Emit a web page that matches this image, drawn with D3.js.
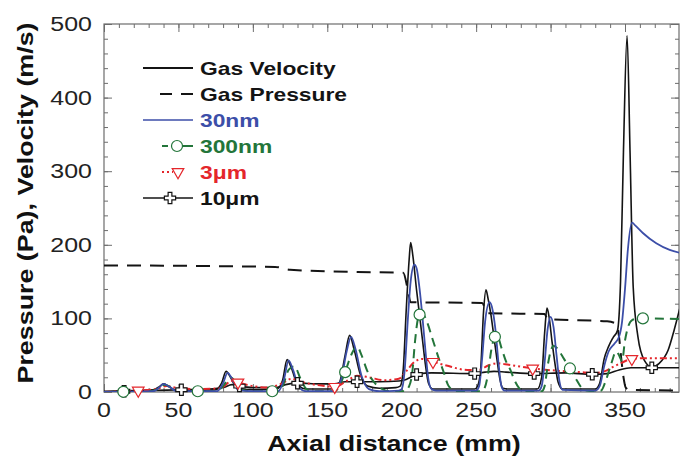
<!DOCTYPE html>
<html>
<head>
<meta charset="utf-8">
<script src="https://cdn.jsdelivr.net/npm/d3@7"></script>
<style>
  body { margin: 0; background: #fff; }
  svg { display: block; font-family: "Liberation Sans", Arial, sans-serif; }
</style>
</head>
<body>
<svg id="chart" width="680" height="457"></svg>
<script>
'use strict';

/* Data: [axial distance (mm), value] */

var gasVelocity = [[0,1],[20,2],[33,3],[37,7],[40,11],[43,8],[48,3],[62,2],[75,3],[79,12],[82,28],[85,20],[89,6],[100,3],[116,4],[120,16],[123,44],[126,32],[130,10],[136,4],[152,4],[158,12],[162,50],[165,77],[168,58],[172,25],[177,8],[185,5],[196,6],[199,8],[201,30],[203,110],[205,180],[206,203],[207.5,185],[210,138],[212,104],[214,70],[216,36],[218,12],[221,4],[249,4],[251,8],[253,30],[255,110],[256.6,139],[258,127],[260,104],[262,74],[264,44],[266,17],[268,5],[271,4],[291,4],[294,20],[296,80],[297.6,114],[299,102],[301,68],[303,38],[305,14],[308,4],[330,4],[333,12],[336,45],[339,62],[342,74],[345,84],[347,150],[349,330],[351.4,484],[353.4,325],[355.5,143],[358.7,75],[363,43],[368,34],[373,39],[379,57],[383,84],[387,115]];

var gasPressure = [[0,172],[115,170],[125,166],[170,163],[201,162],[204,140],[206,122],[254,121],[256,114],[258,107],[296,106],[298,99],[338,96],[344,93],[346,75],[347.5,45],[349,20],[350.5,6],[353,3],[387,2]];

var p30nm = [[0,0],[33,1],[37,6],[40,11],[44,7],[49,1],[76,1],[80,12],[83,26],[86,18],[90,3],[100,1],[117,1],[121,18],[124,43],[127,30],[131,6],[136,1],[153,1],[159,15],[163,55],[166,75],[169,58],[173,22],[178,4],[185,1],[198,2],[200,4],[202,30],[204,95],[206,150],[208.5,173],[210,168],[212,140],[214,100],[216,55],[218,16],[220,4],[223,2],[250,2],[252,8],[254,45],[256,95],[259,122],[261,112],[263,84],[265,40],[267,8],[269,2],[292,2],[294,8],[296,40],[298,85],[300,102],[302,88],[304,50],[306,14],[308,3],[330,2],[333,8],[336,35],[339,55],[343,66],[346,75],[348,95],[350,140],[352,195],[354.7,230],[357,226],[362,216],[371,202],[380,193],[387,189]];

var p300nm = [[0,0],[30,1],[36,4],[41,10],[45,6],[50,1],[75,1],[80,8],[85,20],[89,12],[93,3],[100,1],[116,1],[120,8],[124,30],[128,35],[132,18],[136,4],[140,1],[155,1],[159,12],[162,27],[166,50],[170,62],[173,50],[177,28],[182,12],[187,4],[192,1],[202,1],[205,8],[207,25],[209,70],[211,100],[213.5,108],[217,95],[221,70],[225,45],[228,28],[231,10],[234,3],[238,1],[253,1],[255,3],[258,25],[260,55],[262.6,75],[264,77],[267,60],[270,42],[273,30],[276,15],[279,5],[282,1],[294,1],[296,8],[298,35],[300,55],[302,63],[305,58],[309,45],[313,32],[317,18],[320,8],[324,2],[330,1],[334,2],[337,15],[341,40],[344,55],[346,50],[348,42],[350,70],[352,88],[355,98],[359,100],[362,100],[387,99]];

var p3um = [[0,0],[23,2],[35,4],[42,8],[48,6],[60,4],[78,5],[86,15],[90,13],[100,8],[110,6],[120,12],[126,18],[132,14],[145,9],[155,7],[163,15],[170,22],[178,20],[188,16],[198,18],[203,28],[208,40],[214,45],[221,41],[230,36],[244,30],[252,30],[258,36],[264,39],[272,37],[288,32],[304,29],[320,27],[329,26],[336,28],[342,34],[348,40],[354.6,45],[365,46],[387,46]];

var p10um = [[0,0],[13.5,1],[30,2],[52,3],[70,4],[80,6],[86,10],[91,8],[100,6],[115,6],[122,10],[130,12],[145,11],[155,11],[162,14],[170,14],[185,14],[198,15],[203,17],[207,21],[212,25],[220,26],[249,25],[256,27],[262,28],[270,27],[289,25],[310,26],[328,24],[338,25],[346,30],[354,33],[368,33],[387,33]];

// marker positions (mm) along each particle curve
var marks300nm = [13, 63, 113, 162, 212, 262.6, 313, 362];
var marks3um = [23, 90, 155, 221, 288, 354.6];
var marks10um = [13.5, 52, 91, 130, 170, 210, 249, 289, 328, 368];

var xTicks = [0, 50, 100, 150, 200, 250, 300, 350];
var yTicks = [0, 100, 200, 300, 400, 500];

var legendLabels = ['Gas Velocity', 'Gas Pressure', '30nm', '300nm', '3\u03bcm', '10\u03bcm'];

/* Chart */

var svg = d3.select('#chart');
var plotLeft = 104, plotRight = 679, plotTop = 24, plotBottom = 392;

var x = d3.scaleLinear().domain([0, 350]).range([104, 625]);
var y = d3.scaleLinear().domain([0, 500]).range([plotBottom, plotTop]);
var xMax = x.invert(plotRight);

var colors = {
  black: '#141414',
  blue: '#3c4ea8',
  green: '#23753a',
  red: '#e4262b'
};

svg.append('defs').append('clipPath').attr('id', 'plot')
  .append('rect')
  .attr('x', plotLeft).attr('y', plotTop)
  .attr('width', plotRight - plotLeft).attr('height', plotBottom - plotTop);

// frame + ticks
var tickCol = '#6d6d6d';
function styleAxis(g) {
  g.select('.domain').remove();
  g.selectAll('.tick line').attr('stroke', tickCol).attr('stroke-width', 1);
}

var minorX = d3.range(0, xMax, 10), minorY = d3.range(0, 501, 20);

[[d3.axisBottom, plotBottom], [d3.axisTop, plotTop]].forEach(function(a) {
  svg.append('g').attr('transform', 'translate(0,' + a[1] + ')')
    .call(a[0](x).tickValues(minorX).tickSize(-4).tickFormat(''))
    .call(styleAxis);
  svg.append('g').attr('transform', 'translate(0,' + a[1] + ')')
    .call(a[0](x).tickValues(xTicks).tickSize(-8).tickFormat(''))
    .call(styleAxis);
});
[[d3.axisLeft, plotLeft], [d3.axisRight, plotRight]].forEach(function(a) {
  svg.append('g').attr('transform', 'translate(' + a[1] + ',0)')
    .call(a[0](y).tickValues(minorY).tickSize(-4).tickFormat(''))
    .call(styleAxis);
  svg.append('g').attr('transform', 'translate(' + a[1] + ',0)')
    .call(a[0](y).tickValues(yTicks).tickSize(-8).tickFormat(''))
    .call(styleAxis);
});

svg.append('rect')
  .attr('x', plotLeft).attr('y', plotTop)
  .attr('width', plotRight - plotLeft).attr('height', plotBottom - plotTop)
  .attr('fill', 'none').attr('stroke', tickCol).attr('stroke-width', 1.2);

// tick labels
svg.append('g').selectAll('text').data(xTicks).enter().append('text')
  .attr('class', 'st').attr('data-stretch', 1.28)
  .attr('x', function(d) { return x(d); })
  .attr('y', 417)
  .attr('text-anchor', 'middle')
  .attr('font-size', 19.5)
  .attr('fill', '#222')
  .text(function(d) { return d; });

svg.append('g').selectAll('text').data(yTicks).enter().append('text')
  .attr('class', 'st').attr('data-stretch', 1.28)
  .attr('x', 92)
  .attr('y', function(d) { return y(d) + 7; })
  .attr('text-anchor', 'end')
  .attr('font-size', 19.5)
  .attr('fill', '#222')
  .text(function(d) { return d; });

// axis titles
svg.append('text')
  .attr('class', 'st').attr('data-stretch', 1.22)
  .attr('x', 394).attr('y', 451)
  .attr('text-anchor', 'middle')
  .attr('font-size', 22).attr('font-weight', 'bold')
  .attr('fill', '#111')
  .text('Axial distance (mm)');

svg.append('text')
  .attr('class', 'st').attr('data-stretch', 1.22)
  .attr('transform', 'translate(33,203) rotate(-90)')
  .attr('text-anchor', 'middle')
  .attr('font-size', 22).attr('font-weight', 'bold')
  .attr('fill', '#111')
  .text('Pressure (Pa), Velocity (m/s)');

// curves
var line = d3.line()
  .x(function(d) { return x(d[0]); })
  .y(function(d) { return y(d[1]); })
  .curve(d3.curveMonotoneX);

var plot = svg.append('g').attr('clip-path', 'url(#plot)');

var series = [
  { data: gasPressure, color: colors.black, width: 2, dash: '14,9' },
  { data: gasVelocity, color: colors.black, width: 1.6, dash: null },
  { data: p10um, color: colors.black, width: 1.6, dash: null, marks: marks10um, symbol: 'plus' },
  { data: p3um, color: colors.red, width: 2, dash: '7,3,2,3,2,3', marks: marks3um, symbol: 'tri' },
  { data: p300nm, color: colors.green, width: 2, dash: '9,6', marks: marks300nm, symbol: 'circle' },
  { data: p30nm, color: colors.blue, width: 1.8, dash: null }
];

series.forEach(function(s) {
  s.path = plot.append('path')
    .datum(s.data)
    .attr('d', line)
    .attr('fill', 'none')
    .attr('stroke', s.color)
    .attr('stroke-width', s.width)
    .attr('stroke-dasharray', s.dash)
    .attr('stroke-linejoin', 'round');
});

function symbolPath(kind) {
  if (kind === 'plus') return d3.symbol().type(d3.symbolCross).size(70)();
  if (kind === 'tri') return d3.symbol().type(d3.symbolTriangle).size(58)();
  return null;
}

function drawMark(g, kind, px, py, color) {
  if (kind === 'circle') {
    g.append('circle').attr('cx', px).attr('cy', py).attr('r', 5.5)
      .attr('fill', '#fff').attr('stroke', color).attr('stroke-width', 1.2);
  } else {
    g.append('path').attr('d', symbolPath(kind))
      .attr('transform', 'translate(' + px + ',' + py + ')' + (kind === 'tri' ? ' rotate(180)' : ''))
      .attr('fill', '#fff').attr('stroke', color).attr('stroke-width', 1.2);
  }
}

// find the point on a drawn curve at a given x pixel
function pointAtX(node, px) {
  var lo = 0, hi = node.getTotalLength(), p;
  for (var i = 0; i < 40; i++) {
    var mid = (lo + hi) / 2;
    p = node.getPointAtLength(mid);
    if (p.x < px) lo = mid; else hi = mid;
  }
  return node.getPointAtLength((lo + hi) / 2);
}

var markLayer = svg.append('g');
series.forEach(function(s) {
  if (!s.marks) return;
  s.marks.forEach(function(m) {
    var p = pointAtX(s.path.node(), x(m));
    drawMark(markLayer, s.symbol, p.x, p.y, s.color);
  });
});

// legend
var legend = svg.append('g');
var ly = d3.scaleBand().domain(legendLabels).range([55, 211]);
var legendStyle = [
  { color: colors.black, width: 1.8, dash: null, from: 143 },
  { color: colors.black, width: 2, dash: '12,9', from: 160 },
  { color: colors.blue, width: 1.6, dash: null, from: 143 },
  { color: colors.green, width: 2, dash: '6,4,60', from: 162, symbol: 'circle', at: 177 },
  { color: colors.red, width: 2, dash: '2,3,2,3,1,20,60', from: 162, symbol: 'tri', at: 178 },
  { color: colors.black, width: 1.6, dash: null, from: 143, symbol: 'plus', at: 170 }
];

legendLabels.forEach(function(label, i) {
  var st = legendStyle[i];
  var cy = ly(label) + ly.bandwidth() / 2;
  legend.append('line')
    .attr('x1', st.from).attr('x2', 193)
    .attr('y1', cy).attr('y2', cy)
    .attr('stroke', st.color)
    .attr('stroke-width', st.width)
    .attr('stroke-dasharray', st.dash);
  if (st.symbol) drawMark(legend, st.symbol, st.at, cy, st.color);
  legend.append('text')
    .attr('class', 'st').attr('data-stretch', 1.2)
    .attr('x', 200).attr('y', cy + 7)
    .attr('font-size', 19).attr('font-weight', 'bold')
    .attr('fill', st.color)
    .text(label);
});

// the figure is a little wider than tall: stretch the glyphs to match
svg.selectAll('text.st').each(function() {
  var w = this.getComputedTextLength();
  var k = +this.getAttribute('data-stretch');
  d3.select(this).attr('textLength', w * k).attr('lengthAdjust', 'spacingAndGlyphs');
});
</script>
</body>
</html>
